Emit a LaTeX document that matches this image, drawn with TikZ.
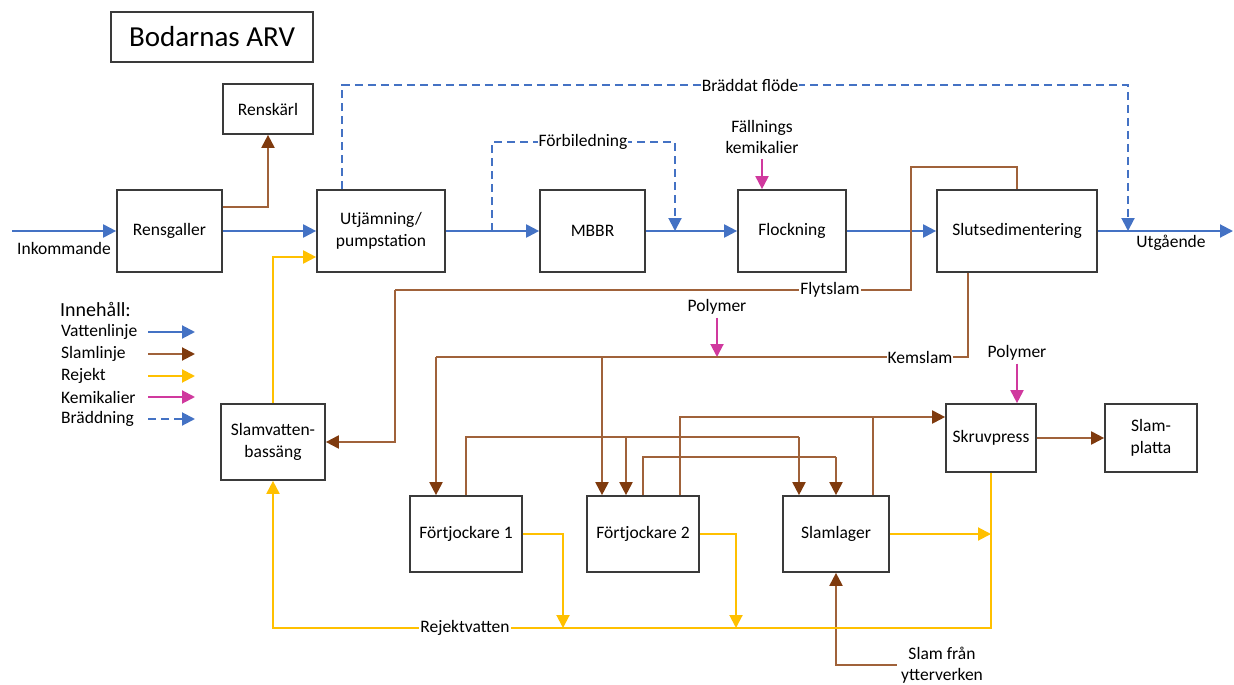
\documentclass[tikz,border=0pt]{standalone}
\usepackage{fontspec}
\setmainfont{Carlito}
\usetikzlibrary{arrows.meta}
\definecolor{wblue}{HTML}{4472C4}
\definecolor{sbrown}{HTML}{A0623A}
\definecolor{sbrownD}{HTML}{7F3A0E}
\definecolor{ryellow}{HTML}{FFC000}
\definecolor{cpink}{HTML}{D0399E}
\definecolor{boxgray}{HTML}{3A3A3A}
\tikzset{
  box/.style={draw=boxgray, line width=1.7pt, inner sep=2pt, align=center, fill=white},
  lbl/.style={inner sep=1pt, align=center},
  onl/.style={inner sep=1pt, fill=white},
  tip/.style={-{Triangle[length=13pt,width=13pt]}},
  water/.style={draw=wblue, line width=2pt, tip},
  bypass/.style={draw=wblue, line width=2pt, dash pattern=on 8pt off 5pt, tip},
  sludge/.style={draw=sbrown, line width=2pt, -{Triangle[length=13pt,width=13pt,color=sbrownD]}},
  sline/.style={draw=sbrown, line width=2pt},
  reject/.style={draw=ryellow, line width=2pt, tip},
  chem/.style={draw=cpink, line width=2pt, tip},
}
\begin{document}
\begin{tikzpicture}[x=1pt,y=-1pt, font=\fontsize{17.5}{21.5}\selectfont]
\useasboundingbox (0,0) rectangle (1234,685);

% title
\node[box, minimum width=202pt, minimum height=50pt, font=\fontsize{29}{34}\selectfont] (title) at (212,37) {Bodarnas ARV};

% boxes
\node[box, minimum width=90pt, minimum height=50pt] (rensk) at (268,109) {Renskärl};
\node[box, minimum width=105pt, minimum height=82pt] (rensg) at (169.5,231) {Rensgaller};
\node[box, minimum width=128pt, minimum height=82pt] (utj) at (381,231) {Utjämning/\\pumpstation};
\node[box, minimum width=105pt, minimum height=82pt] (mbbr) at (592.5,231) {MBBR};
\node[box, minimum width=108pt, minimum height=82pt] (flock) at (792,231) {Flockning};
\node[box, minimum width=160pt, minimum height=82pt] (slut) at (1017,231) {Slutsedimentering};
\node[box, minimum width=104pt, minimum height=76pt] (slamv) at (273,442) {Slamvatten-\\bassäng};
\node[box, minimum width=112pt, minimum height=76pt] (ft1) at (466,534) {Förtjockare 1};
\node[box, minimum width=112pt, minimum height=76pt] (ft2) at (643,534) {Förtjockare 2};
\node[box, minimum width=106pt, minimum height=76pt] (slaml) at (836,534) {Slamlager};
\node[box, minimum width=90pt, minimum height=68pt] (skruv) at (991,438) {Skruvpress};
\node[box, minimum width=92pt, minimum height=68pt] (slamp) at (1151,438) {Slam-\\platta};

% free labels
\node[lbl] (inkl) at (64,248) {Inkommande};
\node[lbl] (utgl) at (1171,243) {Utgående};
\node[lbl] (fk) at (762,137) {Fällnings\\kemikalier};
\node[lbl] (pol1) at (717,307) {Polymer};
\node[lbl] (pol2) at (1017,353) {Polymer};
\node[lbl, inner sep=4pt] (sy) at (942,665) {Slam från\\ytterverken};

% coordinates
\coordinate (in) at (12,231);
\coordinate (out) at (1233,231);
\coordinate (bdL) at (342,85);
\coordinate (bdR) at (1128,85);
\coordinate (bdE) at (1128,231);
\coordinate (fbS) at (492,231);
\coordinate (fbL) at (492,142);
\coordinate (fbR) at (675,142);
\coordinate (fbE) at (675,231);
\coordinate (fs1) at (911,167);
\coordinate (fs2) at (911,290);
\coordinate (fs3) at (395,290);
\coordinate (ks1) at (968,357);
\coordinate (ksL) at (436,357);
\coordinate (kb) at (602,357);
\coordinate (pm) at (717,357);
\coordinate (a1) at (466,437);
\coordinate (a2) at (799,437);
\coordinate (ab) at (626,437);
\coordinate (c1) at (643,457);
\coordinate (c2) at (836,457);
\coordinate (b1) at (680,417);
\coordinate (b2) at (873,417);
\coordinate (r1) at (563,628);
\coordinate (r2) at (736,628);
\coordinate (r3) at (991,628);
\coordinate (r4) at (273,257);

% water line
\draw[water] (in) -- (rensg.west);
\draw[water] (rensg.east) -- (utj.west);
\draw[water] (utj.east) -- (mbbr.west);
\draw[water] (mbbr.east) -- (flock.west);
\draw[water] (flock.east) -- (slut.west);
\draw[water] (slut.east) -- (out);

% bypasses
\draw[bypass] (utj.north -| bdL) -- (bdL) -- (bdR) -- (bdE);
\node[onl] (bfl) at (750,85) {Bräddat flöde};
\draw[bypass] (fbS) -- (fbL) -- (fbR) -- (fbE);
\node[onl] (fbl) at (583,142) {Förbiledning};

% chemicals
\draw[chem] ([yshift=-4pt]fk.south) -- (fk.south |- flock.north);
\draw[chem] ([yshift=-2pt]pol1.south) -- (pol1.south |- pm);
\draw[chem] ([yshift=-2pt]pol2.south) -- (pol2.south |- skruv.north);

% sludge
\draw[sludge] ([yshift=24pt]rensg.east) -| (rensk.south);
\draw[sline] (slut.north) |- (fs1) -- (fs2) -- (fs3);
\draw[sludge] (fs3) |- (slamv.east);
\node[onl] (fsl) at (830,290) {Flytslam};
\draw[sline] (ks1 |- slut.south) -- (ks1) -- (ksL);
\draw[sludge] (ksL) -- (ksL |- ft1.north);
\draw[sludge] (kb) -- (kb |- ft2.north);
\node[onl] (ksl) at (920,357) {Kemslam};
\draw[sline] (ft1.north) -- (a1) -- (a2);
\draw[sludge] (a2) -- (a2 |- slaml.north);
\draw[sludge] (ab) -- (ab |- ft2.north);
\draw[sline] (ft2.north) -- (c1) -- (c2);
\draw[sludge] (c2) -- (slaml.north);
\draw[sludge] (b1 |- ft2.north) -- (b1) -- (b1 -| skruv.west);
\draw[sline] (b2 |- slaml.north) -- (b2);
\draw[sludge] (skruv.east) -- (slamp.west);
\draw[sludge] (sy.west) -| (slaml.south);

% reject
\draw[reject] (ft1.east) -| (r1);
\draw[reject] (ft2.east) -| (r2);
\draw[reject] (slaml.east) -- (slaml.east -| skruv.south);
\draw[reject] (skruv.south) -- (r3) -- (r3 -| slamv.south) -- (slamv.south);
\node[onl] (rjl) at (465,628) {Rejektvatten};
\draw[reject] (slamv.north) -- (r4) -- (r4 -| utj.west);

% legend
\node[lbl, anchor=west, font=\fontsize{20}{24}\selectfont] (leg) at (59,309) {Innehåll:};
\node[lbl, anchor=west] (l1) at (60,332) {Vattenlinje};
\node[lbl, anchor=west] (l2) at (60,354) {Slamlinje};
\node[lbl, anchor=west] (l3) at (60,376) {Rejekt};
\node[lbl, anchor=west] (l4) at (60,397) {Kemikalier};
\node[lbl, anchor=west] (l5) at (60,419) {Bräddning};
\coordinate (la1) at (148,332); \coordinate (lb1) at (195,332);
\coordinate (la2) at (148,354); \coordinate (lb2) at (195,354);
\coordinate (la3) at (148,376); \coordinate (lb3) at (195,376);
\coordinate (la4) at (148,397); \coordinate (lb4) at (195,397);
\coordinate (la5) at (148,419); \coordinate (lb5) at (195,419);
\draw[water] (la1) -- (lb1);
\draw[sludge] (la2) -- (lb2);
\draw[reject] (la3) -- (lb3);
\draw[chem] (la4) -- (lb4);
\draw[bypass] (la5) -- (lb5);
\end{tikzpicture}
\end{document}
